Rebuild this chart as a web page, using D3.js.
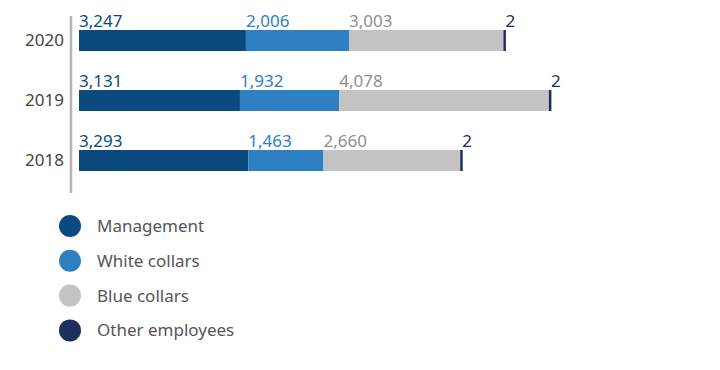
<!DOCTYPE html>
<html>
<head>
<meta charset="utf-8">
<script src="https://d3js.org/d3.v7.min.js"></script>
<style>
  body { margin: 0; background: #fff; }
  svg text { font-family: "Segoe UI", "Noto Sans", sans-serif; }
</style>
</head>
<body>
<svg id="chart" width="720" height="370"></svg>
<script>
  // data
  const years = ['2020', '2019', '2018'];
  const series = ['Management', 'White collars', 'Blue collars', 'Other employees'];
  const management = [3247, 3131, 3293];
  const whiteCollars = [2006, 1932, 1463];
  const blueCollars = [3003, 4078, 2660];
  const otherEmployees = [2, 2, 2];

  const colors = ['#0b4a7f', '#2f80c3', '#c2c3c2', '#1d2f5c'];
  const labelColors = ['#0b4a7f', '#2f80c3', '#8e8e8e', '#1d2f5c'];

  const rows = years.map((y, i) => ({
    year: y,
    'Management': management[i],
    'White collars': whiteCollars[i],
    'Blue collars': blueCollars[i],
    'Other employees': otherEmployees[i]
  }));

  const stacked = d3.stack().keys(series)(rows);

  const svg = d3.select('#chart');

  const x = d3.scaleLinear()
    .domain([0, d3.max(rows, d => series.reduce((s, k) => s + d[k], 0))])
    .range([79, 549]);

  const y = d3.scaleBand()
    .domain(years)
    .range([30, 171])
    .paddingInner(0.65)
    .paddingOuter(0);

  // axis line + year labels
  const yAxis = d3.axisLeft(y).tickSize(0).tickPadding(7);
  const ax = svg.append('g').attr('transform', 'translate(71,0)').call(yAxis);
  ax.select('.domain').remove();
  ax.selectAll('.tick text')
    .attr('font-size', 17)
    .attr('fill', '#444')
    .attr('font-family', '"Segoe UI", "Noto Sans", sans-serif');

  svg.append('line')
    .attr('x1', 71).attr('x2', 71)
    .attr('y1', 16).attr('y2', 193)
    .attr('stroke', '#b5b5b5')
    .attr('stroke-width', 2.5);

  // bars
  const layer = svg.append('g').selectAll('g')
    .data(stacked)
    .join('g')
    .attr('fill', (d, i) => colors[i]);

  layer.selectAll('rect')
    .data(d => d.map(v => ({v, key: d.key})))
    .join('rect')
    .attr('x', d => x(d.v[0]))
    .attr('y', d => y(d.v.data.year))
    .attr('height', y.bandwidth())
    .attr('width', d => Math.max(2.5, x(d.v[1]) - x(d.v[0])));

  // value labels
  const fmt = d3.format(',');
  stacked.forEach((s, i) => {
    svg.append('g').selectAll('text')
      .data(s)
      .join('text')
      .attr('x', d => x(d[0]) + (i === 3 ? 2 : 0))
      .attr('y', d => y(d.data.year) - 3)
      .attr('font-size', 17)
      .attr('fill', labelColors[i])
      .text(d => fmt(d.data[s.key]));
  });

  // legend
  const legend = svg.append('g').selectAll('g')
    .data(series)
    .join('g')
    .attr('transform', (d, i) => `translate(70, ${226 + i * 34.8})`);

  legend.append('circle')
    .attr('r', 11)
    .attr('fill', (d, i) => colors[i]);

  legend.append('text')
    .attr('x', 27)
    .attr('y', 6)
    .attr('font-size', 17)
    .attr('fill', '#555')
    .text(d => d);
</script>
</body>
</html>
